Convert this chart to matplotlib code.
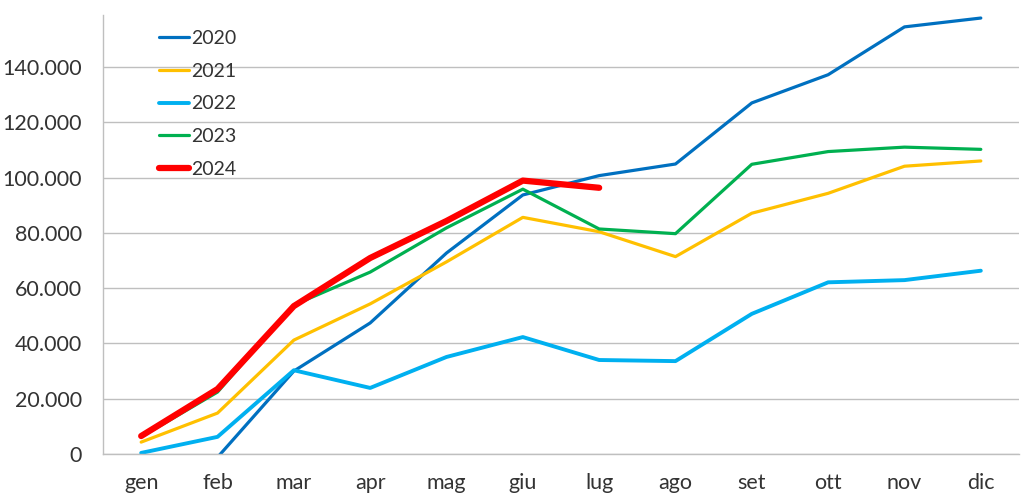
import matplotlib.pyplot as plt
import numpy as np
from matplotlib.ticker import FuncFormatter

plt.rcParams['font.family'] = ['Lato', 'DejaVu Sans']

mesi = ['gen', 'feb', 'mar', 'apr', 'mag', 'giu', 'lug', 'ago', 'set', 'ott', 'nov', 'dic']
v2020 = [np.nan, -1200, 30000, 47400, 72700, 93700, 100700, 104900, 127000, 137200, 154500, 157700]
v2021 = [4300, 14800, 41200, 54300, 69500, 85600, 80400, 71400, 87100, 94300, 104100, 106000]
v2022 = [400, 6200, 30300, 23900, 35100, 42300, 34000, 33600, 50700, 62100, 62900, 66300]
v2023 = [6200, 22400, 53900, 65800, 81800, 95800, 81400, 79700, 104800, 109400, 111000, 110200]
v2024 = [6500, 23500, 53500, 70900, 84300, 98900, 96300]

fig = plt.figure(figsize=(10.24, 5), dpi=100)
ax = fig.add_axes([0.1006, 0.092, 0.8945, 0.878])

x = np.arange(len(mesi))
ax.plot(x, v2020, color='#0070C0', lw=2.3, label='2020', solid_capstyle='round')
ax.plot(x, v2021, color='#FFC000', lw=2.3, label='2021', solid_capstyle='round')
ax.plot(x, v2022, color='#00B0F0', lw=2.8, label='2022', solid_capstyle='round')
ax.plot(x, v2023, color='#00B050', lw=2.3, label='2023', solid_capstyle='round')
ax.plot(x[:len(v2024)], v2024, color='#FF0000', lw=4.5, label='2024', solid_capstyle='round')

ax.set_xlim(-0.5, 11.5)
ax.set_ylim(0, 158800)
ax.set_yticks(np.arange(0, 140001, 20000))
ax.yaxis.set_major_formatter(FuncFormatter(lambda v, p: f'{int(v):,}'.replace(',', '.')))
ax.set_xticks(x)
ax.set_xticklabels(mesi)

ax.grid(axis='y', color='#BFBFBF', lw=1)
ax.set_axisbelow(True)
for s in ['top', 'right']:
    ax.spines[s].set_visible(False)
for s in ['left', 'bottom']:
    ax.spines[s].set_color('#BFBFBF')
    ax.spines[s].set_linewidth(1)
ax.tick_params(length=0, labelsize=15.5, colors='#333333')
ax.tick_params(axis='x', pad=14)
ax.tick_params(axis='y', pad=15)

leg = ax.legend(loc='upper left', bbox_to_anchor=(0.042, 1.005), frameon=False,
                fontsize=14, handlelength=1.55, handletextpad=0.1, labelspacing=0.8)
for t in leg.get_texts():
    t.set_color('#333333')

fig.savefig('out.png')
